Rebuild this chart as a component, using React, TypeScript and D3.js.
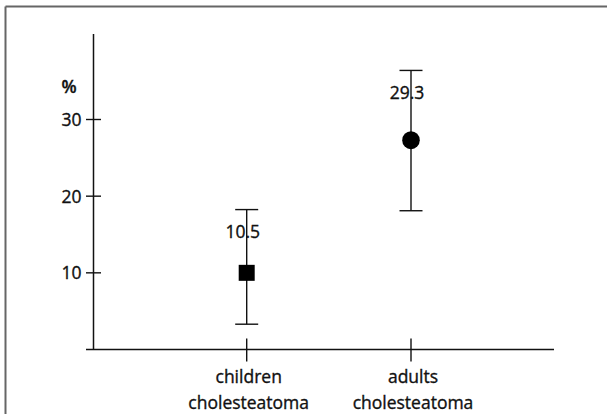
import React from "react";
import * as d3 from "d3";

const categories = ["children", "adults"];
const categoryLine2 = ["cholesteatoma", "cholesteatoma"];
const means = [10, 27.3];
const lower = [3.3, 18.1];
const upper = [18.25, 36.4];
const valueLabels = ["10.5", "29.3"];
const markerShapes = ["square", "circle"];
const yTicks = [10, 20, 30];

const W = 607;
const H = 414;
const FONT = "'Open Sans', sans-serif";

export default function App() {
  const y = d3.scaleLinear().domain([0, 30]).range([349.5, 119.5]);
  const x = d3.scalePoint<string>().domain(categories).range([246.7, 411]);
  const axisX = 93.5;
  const axisTop = 34;
  const axisLeft = 86;
  const axisRight = 554;
  const ink = "#111";
  const fs = 17.5;
  const textProps = { fontSize: fs, fill: ink, stroke: ink, strokeWidth: 0.35 };

  return (
    <svg
      width={W}
      height={H}
      style={{ position: "absolute", left: 0, top: 0, background: "#fff" }}
      fontFamily={FONT}
    >
      <rect x={0} y={0} width={W} height={H} fill="#fff" />
      {/* frame */}
      <line x1={5.5} y1={6.5} x2={W} y2={6.5} stroke="#666" strokeWidth={2} />
      <line x1={5.5} y1={6.5} x2={5.5} y2={H} stroke="#666" strokeWidth={2} />

      {/* y axis */}
      <line x1={axisX} y1={axisTop} x2={axisX} y2={y(0)} stroke={ink} strokeWidth={1.5} />
      {yTicks.map((t) => (
        <g key={t}>
          <line x1={axisX - 7.5} x2={axisX + 7.5} y1={y(t)} y2={y(t)} stroke={ink} strokeWidth={1.4} />
          <text x={81.5} y={y(t) + 6.4} textAnchor="end" {...textProps}>
            {t}
          </text>
        </g>
      ))}
      <text x={61.5} y={92.5} {...textProps} fontWeight={600}>%</text>

      {/* x axis */}
      <line x1={axisLeft} x2={axisRight} y1={y(0)} y2={y(0)} stroke={ink} strokeWidth={1.5} />
      {categories.map((c, i) => {
        const cx = x(c) as number;
        return (
          <g key={c}>
            <line x1={cx} x2={cx} y1={y(0) - 11} y2={y(0) + 12} stroke={ink} strokeWidth={1.4} />
            <text x={cx + 2} y={382.5} textAnchor="middle" {...textProps}>
              {c}
            </text>
            <text x={cx + 2} y={409} textAnchor="middle" {...textProps}>
              {categoryLine2[i]}
            </text>
          </g>
        );
      })}

      {/* error bars + markers */}
      {categories.map((c, i) => {
        const cx = x(c) as number;
        const capW = 11.5;
        return (
          <g key={"e" + c}>
            <line x1={cx} x2={cx} y1={y(upper[i])} y2={y(lower[i])} stroke={ink} strokeWidth={1.4} />
            <line x1={cx - capW} x2={cx + capW} y1={y(upper[i])} y2={y(upper[i])} stroke={ink} strokeWidth={1.4} />
            <line x1={cx - capW} x2={cx + capW} y1={y(lower[i])} y2={y(lower[i])} stroke={ink} strokeWidth={1.4} />
            {markerShapes[i] === "square" ? (
              <rect x={cx - 8} y={y(means[i]) - 8} width={16} height={16} fill="#000" />
            ) : (
              <ellipse cx={cx} cy={y(means[i])} rx={8.8} ry={9} fill="#000" />
            )}
            <text x={cx - 4} y={y(upper[i]) + 28.8} textAnchor="middle" {...textProps}>
              {valueLabels[i]}
            </text>
          </g>
        );
      })}
    </svg>
  );
}
